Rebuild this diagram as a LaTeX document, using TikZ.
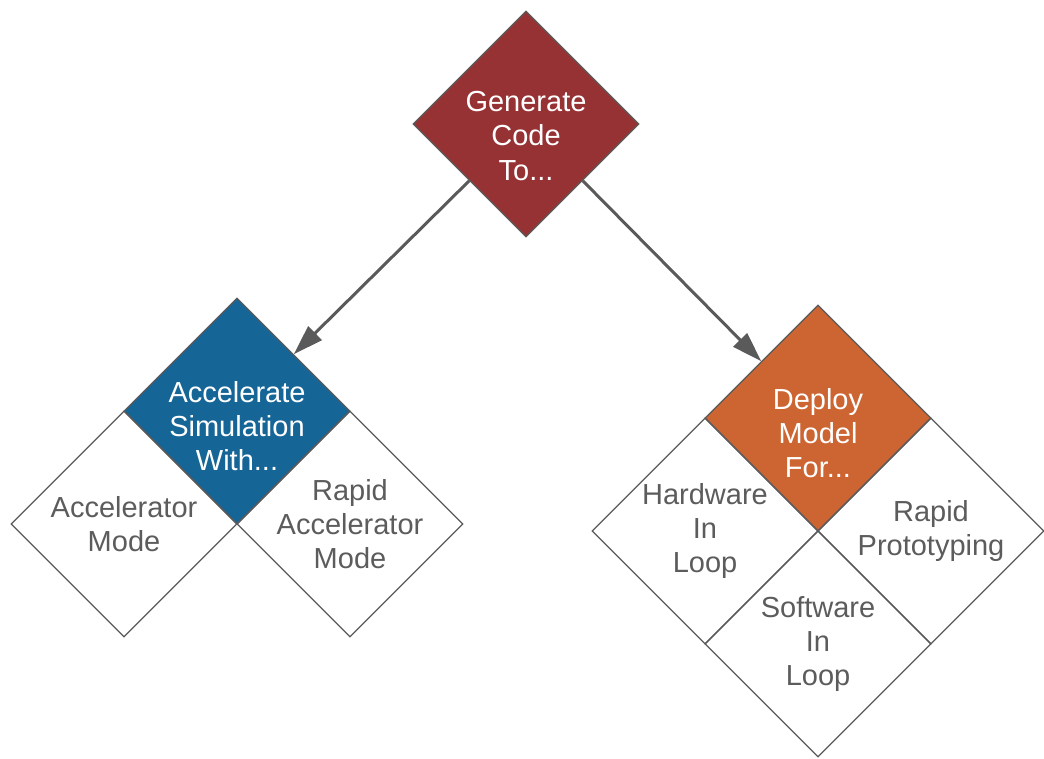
\documentclass[tikz,border=0pt]{standalone}
\usepackage{fontspec}
\setmainfont{Liberation Sans}
\usepackage{xcolor}
\definecolor{cGen}{HTML}{963234}
\definecolor{cSim}{HTML}{156597}
\definecolor{cDep}{HTML}{CD6532}
\definecolor{cLine}{HTML}{5A5A5A}
\definecolor{cText}{HTML}{5C5C5C}
\usepackage{tikz}
\usetikzlibrary{positioning,arrows.meta,shapes.geometric}
\tikzset{
  node-dia/.style={diamond,draw=cLine,line width=0.025cm,inner sep=0pt,
    minimum width=4.52cm,minimum height=4.52cm,fill=white},
  node-gen/.style={node-dia,fill=cGen},
  node-sim/.style={node-dia,fill=cSim},
  node-dep/.style={node-dia,fill=cDep},
  node-txt/.style={align=center,text=cText,inner sep=0pt,
    font=\fontsize{16.5}{19.5}\selectfont},
  node-txt-light/.style={node-txt,text=white},
  arrow/.style={-{Triangle[length=0.6cm,width=0.38cm]},line width=0.06cm,draw=cLine},
}
\begin{document}
\begin{tikzpicture}[x=0.02cm,y=-0.02cm]
  \useasboundingbox (0,0) rectangle (1044,759);
  % left group
  \node[node-dia] (acc) at (124,524) {};
  \node[node-dia] (rapid-acc) at (350,524) {};
  \node[node-sim] (sim) at (237,411) {};
  % right group
  \node[node-dia] (hil) at (705,531) {};
  \node[node-dia] (rp) at (931,531) {};
  \node[node-dia] (sil) at (818,644) {};
  \node[node-dep] (dep) at (818,418) {};
  % top
  \node[node-gen] (gen) at (526,124) {};
  % texts
  \node[node-txt-light] (gen-txt) at ([yshift=-0.24cm]gen.center) {Generate\\Code\\To...};
  \node[node-txt-light] (sim-txt) at ([yshift=-0.3cm]sim.center) {Accelerate\\Simulation\\With...};
  \node[node-txt-light] (dep-txt) at ([yshift=-0.3cm]dep.center) {Deploy\\Model\\For...};
  \node[node-txt] (acc-txt) at (acc.center) {Accelerator\\Mode};
  \node[node-txt] (rapid-acc-txt) at (rapid-acc.center) {Rapid\\Accelerator\\Mode};
  \node[node-txt] (hil-txt) at (hil.center) {Hardware\\In\\Loop};
  \node[node-txt] (rp-txt) at (rp.center) {Rapid\\Prototyping};
  \node[node-txt] (sil-txt) at (sil.center) {Software\\In\\Loop};
  \draw[arrow] (gen.south west) -- (sim.north east);
  \draw[arrow] (gen.south east) -- (dep.north west);
\end{tikzpicture}
\end{document}
